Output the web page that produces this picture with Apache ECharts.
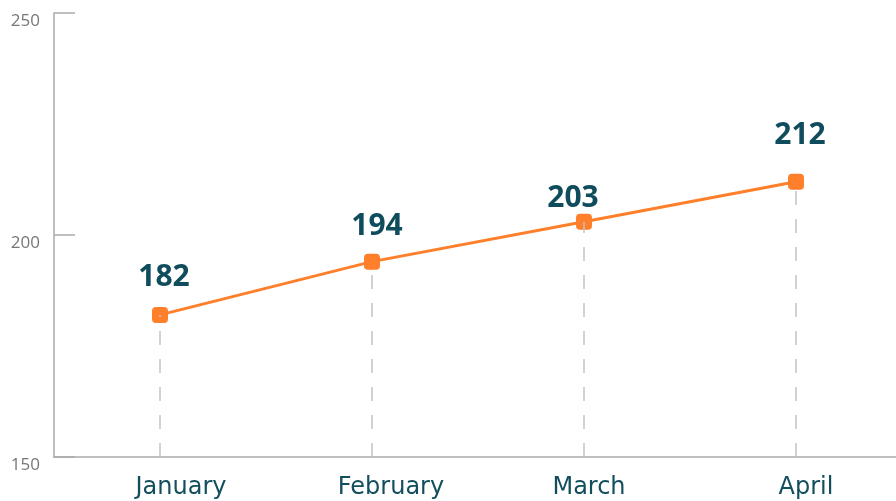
<!DOCTYPE html>
<html>
<head>
<meta charset="utf-8">
<style>
  html, body { margin: 0; padding: 0; background: #fff; }
  #main { width: 896px; height: 501px; }
</style>
<script src="https://cdn.jsdelivr.net/npm/echarts@6/dist/echarts.min.js"></script>
</head>
<body>
<div id="main"></div>
<script>
const months = ['January', 'February', 'March', 'April'];
const values = [182, 194, 203, 212];
const yTicks = [150, 200, 250];
// labels in the source are nudged by hand, not all at the same spot
const labelOffsets = [[4, 0], [5, 2], [-11, 14], [4, -9]];
const monthShift = [21, 19, 5, 10];

const chart = echarts.init(document.getElementById('main'));

const pointData = values.map(function (v, i) {
    return { value: v, label: { offset: labelOffsets[i] } };
});

// dashed drop lines, drawn from the axis up to each point
const dropLines = values.map(function (v, i) {
    return [{ coord: [i, yTicks[0]] }, { coord: [i, v] }];
});

const monthRich = {};
monthShift.forEach(function (s, i) {
    monthRich['m' + i] = {
        color: '#124e5e',
        fontSize: 24,
        fontFamily: 'DejaVu Sans',
        padding: [0, 0, 0, s * 2]
    };
});

chart.setOption({
    animation: false,
    grid: { left: 54, top: 13, width: 848, height: 444, outerBoundsMode: 'none' },
    xAxis: {
        type: 'category',
        data: months,
        boundaryGap: true,
        axisLine: { lineStyle: { color: '#aaa', width: 1.5 } },
        axisTick: { inside: true, length: 12, lineStyle: { color: '#aaa', width: 1.5 } },
        axisLabel: {
            margin: 19,
            formatter: function (v, i) { return '{m' + i + '|' + v + '}'; },
            rich: monthRich
        }
    },
    yAxis: {
        type: 'value',
        min: 150,
        max: 250,
        interval: 50,
        axisLine: { show: true, lineStyle: { color: '#aaa', width: 1.5 } },
        axisTick: { show: true, inside: true, length: 21, lineStyle: { color: '#aaa', width: 1.5 } },
        splitLine: { show: false },
        axisLabel: { color: '#777', fontSize: 17, fontFamily: 'Open Sans', margin: 14, verticalAlign: 'top' }
    },
    series: [{
        type: 'line',
        data: pointData,
        symbol: 'roundRect',
        symbolSize: 16,
        lineStyle: { color: '#ff7f2a', width: 3 },
        itemStyle: { color: '#ff7f2a' },
        label: {
            show: true,
            position: 'top',
            distance: 14,
            color: '#0f4c5c',
            fontSize: 30,
            fontWeight: 'bold',
            fontFamily: 'Open Sans'
        },
        markLine: {
            silent: true,
            symbol: 'none',
            label: { show: false },
            lineStyle: { color: '#c4c4c4', type: [14, 14], width: 1.5 },
            data: dropLines
        },
        z: 3
    }]
});
</script>
</body>
</html>
